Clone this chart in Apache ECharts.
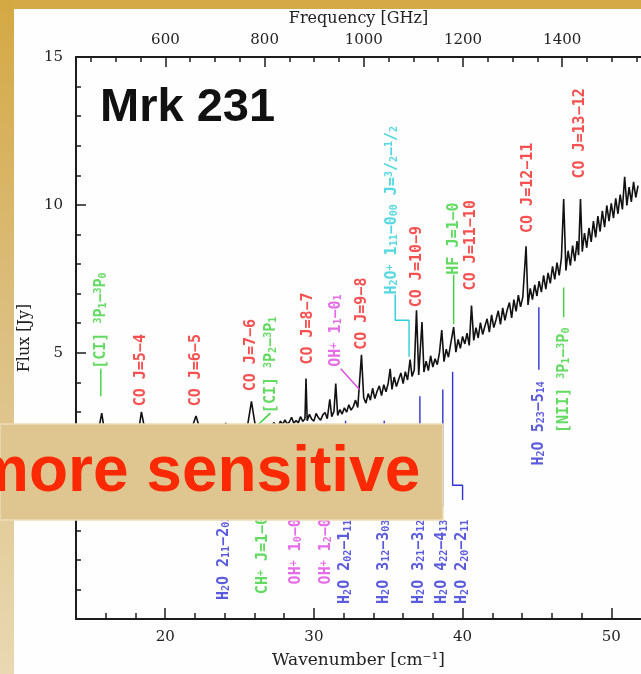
<!DOCTYPE html>
<html><head><meta charset="utf-8">
<script src="https://cdn.jsdelivr.net/npm/echarts@6/dist/echarts.min.js"></script>
<style>html,body{margin:0;padding:0;background:#fefefe;overflow:hidden}#c{width:641px;height:674px}</style>
</head><body><div id="c"></div>
<script>
// ---------- data ----------
const wnLabelTicks = [20, 30, 40, 50];
const wnMinorTicks = [16, 18, 22, 24, 26, 28, 32, 34, 36, 38, 42, 44, 46, 48];
const freqLabelTicks = [600, 800, 1000, 1200, 1400];
const freqMinorTicks = [450, 500, 550, 650, 700, 750, 850, 900, 950, 1050, 1100, 1150, 1250, 1300, 1350, 1450, 1500, 1550];
const fluxLabelTicks = [0, 5, 10, 15];
const fluxMinorTicks = [-3, -2, -1, 1, 2, 3, 4, 6, 7, 8, 9, 11, 12, 13, 14];

// spectrum: [wavenumber cm^-1, flux Jy]
const spectrum = [
[14.90,1.72],[15.30,1.80],[15.73,2.96],[16.10,1.76],[16.50,1.86],[16.90,1.82],[17.30,1.93],[17.70,1.88],[18.10,1.98],[18.40,3.00],[18.80,1.95],[19.20,2.05],[19.60,2.00],[20.00,2.10],[20.40,2.04],[20.80,2.14],[21.20,2.08],[21.60,2.18],[22.07,2.86],[22.50,2.15],[22.90,2.24],[23.30,2.20],[23.70,2.30],[24.07,2.62],[24.40,2.28],[24.80,2.36],[25.20,2.32],[25.50,2.42],[25.80,3.36],[26.10,2.40],[26.50,2.48],[26.80,2.45],
[27.00,2.58],[27.15,2.47],[27.30,2.64],[27.45,2.55],[27.60,2.50],[27.75,2.69],[27.90,2.57],[28.05,2.73],[28.20,2.60],[28.35,2.66],[28.50,2.82],[28.65,2.62],[28.80,2.71],[28.95,2.63],[29.10,2.84],[29.25,2.68],[29.40,2.77],[29.47,4.13],[29.55,2.70],[29.70,2.92],[29.85,2.76],[30.00,2.69],[30.15,2.95],[30.30,2.81],[30.45,2.72],[30.60,2.90],[30.75,2.98],[30.90,2.77],[31.07,3.43],[31.20,2.84],[31.35,3.02],[31.47,3.96],[31.60,2.88],[31.75,3.08],[31.90,2.93],[32.05,3.14],[32.20,2.99],[32.35,3.24],[32.50,3.06],[32.65,3.18],[32.80,3.40],[32.95,3.15],[33.20,4.93],[33.35,3.48],[33.50,3.30],[33.65,3.62],[33.80,3.40],[33.95,3.80],[34.10,3.45],[34.25,3.70],[34.40,3.88],[34.55,3.55],[34.70,3.92],[34.85,3.68],[35.00,3.98],[35.13,4.46],[35.25,3.76],[35.40,4.18],[35.55,3.86],[35.70,4.10],[35.85,4.32],[36.00,3.96],[36.15,4.36],[36.30,4.08],[36.47,4.77],[36.60,4.20],[36.75,4.42],[36.90,6.44],[37.05,4.25],[37.27,6.04],[37.40,4.35],[37.55,4.72],[37.70,4.40],[37.85,4.90],[38.00,4.52],[38.15,4.80],[38.30,4.60],[38.45,5.02],[38.60,5.77],[38.75,4.70],[38.90,5.12],[39.05,4.85],[39.20,5.30],[39.40,5.87],[39.55,5.02],[39.70,5.45],[39.85,5.15],[40.00,5.55],[40.15,5.30],[40.30,5.66],[40.45,5.25],[40.60,6.60],[40.75,5.42],[40.90,5.85],[41.05,5.50],[41.20,6.02],[41.35,5.62],[41.50,5.90],[41.65,6.15],[41.80,5.70],[41.95,6.28],[42.10,5.85],[42.25,6.12],[42.40,6.42],[42.55,5.96],[42.70,6.52],[42.85,6.10],[43.00,6.45],[43.15,6.70],[43.30,6.18],[43.45,6.80],[43.60,6.40],[43.75,6.95],[43.90,6.55],[44.05,6.88],[44.27,8.60],[44.40,6.62],[44.55,7.18],[44.70,6.80],[44.85,7.30],[45.00,6.92],[45.15,7.42],[45.30,7.05],[45.45,7.62],[45.60,7.15],[45.75,7.70],[45.90,7.35],[46.05,7.92],[46.20,7.48],[46.35,8.05],[46.50,7.62],[46.65,8.22],[46.80,10.20],[46.95,7.78],[47.10,8.45],[47.25,7.95],[47.40,8.62],[47.55,8.10],[47.70,8.78],[47.80,8.30],[47.93,10.20],[48.05,8.42],[48.20,9.05],[48.35,8.55],[48.50,9.22],[48.65,8.75],[48.80,9.45],[48.95,8.90],[49.10,9.62],[49.25,9.10],[49.40,9.80],[49.55,9.25],[49.70,9.98],[49.85,9.45],[50.00,10.05],[50.15,9.55],[50.30,10.22],[50.45,9.70],[50.60,10.35],[50.75,9.85],[50.90,10.95],[51.05,9.98],[51.20,10.60],[51.35,10.10],[51.50,10.78],[51.65,10.25],[51.80,10.65]
];

// line identifications (text, wavenumber of label, flux where the text starts, species)
const annotText = [
 '[CI] {sp|3}P{sb|1}−{sp|3}P{sb|0}',
 'CO J=5−4',
 'CO J=6−5',
 'CO J=7−6',
 '[CI] {sp|3}P{sb|2}−{sp|3}P{sb|1}',
 'CO J=8−7',
 'OH{sp|+} 1{sb|1}−0{sb|1}',
 'CO J=9−8',
 'H{sb|2}O{sp|+} 1{sb|11}−0{sb|00} J={sp|3}/{sb|2}−{sp|1}/{sb|2}',
 'CO J=10−9',
 'HF J=1−0',
 'CO J=11−10',
 'CO J=12−11',
 'CO J=13−12',
 'H{sb|2}O 5{sb|23}−5{sb|14}',
 '[NII] {sp|3}P{sb|1}−{sp|3}P{sb|0}',
 'H{sb|2}O 2{sb|11}−2{sb|02}',
 'CH{sp|+} J=1−0',
 'OH{sp|+} 1{sb|0}−0{sb|1}',
 'OH{sp|+} 1{sb|2}−0{sb|1}',
 'H{sb|2}O 2{sb|02}−1{sb|11}',
 'H{sb|2}O 3{sb|12}−3{sb|03}',
 'H{sb|2}O 3{sb|21}−3{sb|12}',
 'H{sb|2}O 4{sb|22}−4{sb|13}',
 'H{sb|2}O 2{sb|20}−2{sb|11}'
];
const annotWn = [15.67,18.40,22.07,25.80,27.13,29.60,31.47,33.27,35.27,36.93,39.40,40.60,44.40,47.93,45.13,46.80,23.93,26.60,28.80,30.80,32.13,34.73,37.07,38.60,40.00];
const annotFlux = [4.46,3.19,3.19,3.70,2.96,4.60,4.53,5.10,6.97,6.54,7.64,7.11,9.05,10.89,1.19,2.29,-3.36,-3.16,-2.83,-2.83,-3.49,-3.49,-3.49,-3.49,-3.49];
const annotSpecies = ['ci','co','co','co','ci','co','ohp','co','h2op','co','hf','co','co','co','h2o','nii','h2o','chp','ohp','ohp','h2o','h2o','h2o','h2o','h2o'];

// leader lines from labels to lines
const leaderSpecies = ['ci','ci','ohp','h2op','hf','h2o','nii','h2o','chp','ohp','ohp','h2o','h2o','h2o','h2o','h2o'];
const leaderPaths = [
 [[15.67,4.46],[15.67,3.53]],
 [[27.07,2.96],[26.10,2.50]],
 [[31.80,4.46],[33.07,3.76]],
 [[35.47,6.97],[35.47,6.10],[36.40,6.10],[36.40,4.87]],
 [[39.40,7.64],[39.40,5.97]],
 [[45.13,6.54],[45.13,4.43]],
 [[46.80,7.21],[46.80,6.20]],
 [[23.93,2.40],[23.93,-0.20]],
 [[26.60,2.45],[26.60,-0.25]],
 [[28.80,2.55],[28.80,-0.25]],
 [[30.80,2.60],[30.80,-0.25]],
 [[32.13,2.70],[32.13,-0.20]],
 [[34.73,2.70],[34.73,-0.20]],
 [[37.13,3.53],[37.13,-0.15]],
 [[38.67,3.76],[38.67,-0.20]],
 [[39.33,4.36],[39.33,0.52],[40.00,0.52],[40.00,0.02]]
];

// ---------- style ----------
const C_GHZ = 29.9792458;
const WN_MIN = 14, WN_MAX = 52;
const speciesColor = {co:'#f42424', ci:'#3cd23c', hf:'#3cd23c', chp:'#3cd23c', nii:'#3cd23c', h2o:'#3232d6', ohp:'#e046e0', h2op:'#2cced9'};
const AXIS_FONT = '"DejaVu Serif", serif';
const LABEL_FONT = '"DejaVu Sans Mono", monospace';
const INK = '#1c1c1c';

const axisText = {color:'#222', fontFamily:AXIS_FONT, fontSize:15};
const nameText = {color:'#222', fontFamily:AXIS_FONT, fontSize:16};

const chart = echarts.init(document.getElementById('c'), null, {renderer:'canvas'});

const series = [];
series.push({
  type:'line', data: spectrum, xAxisIndex:0, yAxisIndex:0, symbol:'none',
  lineStyle:{color:'#111', width:1.6}, z:3, silent:true, animation:false
});
leaderPaths.forEach((p, i) => {
  series.push({
    type:'line', data:p, xAxisIndex:0, yAxisIndex:0, symbol:'none',
    lineStyle:{color:speciesColor[leaderSpecies[i]], width:1.4}, z:4, silent:true
  });
});
series.push({
  type:'scatter', xAxisIndex:0, yAxisIndex:0, symbolSize:1, itemStyle:{color:'rgba(0,0,0,0)'}, z:5, silent:true,
  data: annotText.map((t, i) => ({
    value:[annotWn[i], annotFlux[i]], name:t,
    label:{color:speciesColor[annotSpecies[i]]}
  })),
  label:{
    show:true, position:'inside', rotate:90, align:'left', verticalAlign:'middle',
    formatter: p => p.name,
    fontFamily:LABEL_FONT, fontSize:15, fontWeight:'bold',
    rich:{
      sb:{fontFamily:LABEL_FONT, fontSize:10, fontWeight:'bold', verticalAlign:'bottom'},
      sp:{fontFamily:LABEL_FONT, fontSize:10, fontWeight:'bold', verticalAlign:'top'}
    }
  }
});

const tickLine = {color:INK, width:1.5};
const option = {
  animation:false,
  backgroundColor:'#fefefe',
  grid:{left:76, top:57, width:570, height:568, containLabel:false},
  xAxis:[
    {type:'value', position:'bottom', min:WN_MIN, max:WN_MAX,
     axisLine:{show:true, onZero:false, lineStyle:{color:INK, width:2}},
     axisTick:{show:true, inside:true, length:6, customValues:wnMinorTicks, lineStyle:tickLine},
     axisLabel:Object.assign({show:true, customValues:wnLabelTicks, margin:11, formatter:v=>String(v)}, axisText),
     splitLine:{show:false},
     name:'Wavenumber [cm⁻¹]', nameLocation:'middle', nameGap:33, nameTextStyle:{color:'#222', fontFamily:AXIS_FONT, fontSize:17}},
    {type:'value', position:'bottom', min:WN_MIN, max:WN_MAX,
     axisLine:{show:false, onZero:false},
     axisTick:{show:true, inside:true, length:11, customValues:wnLabelTicks, lineStyle:tickLine},
     axisLabel:{show:false}, splitLine:{show:false}},
    {type:'value', position:'top', min:WN_MIN*C_GHZ, max:WN_MAX*C_GHZ,
     axisLine:{show:true, onZero:false, lineStyle:{color:INK, width:2}},
     axisTick:{show:true, inside:true, length:5, customValues:freqMinorTicks, lineStyle:tickLine},
     axisLabel:Object.assign({show:true, customValues:freqLabelTicks, margin:9, formatter:v=>String(v)}, axisText),
     splitLine:{show:false},
     name:'Frequency [GHz]', nameLocation:'middle', nameGap:30, nameTextStyle:nameText},
    {type:'value', position:'top', min:WN_MIN*C_GHZ, max:WN_MAX*C_GHZ,
     axisLine:{show:false, onZero:false},
     axisTick:{show:true, inside:true, length:10, customValues:freqLabelTicks, lineStyle:tickLine},
     axisLabel:{show:false}, splitLine:{show:false}}
  ],
  yAxis:[
    {type:'value', position:'left', min:-4, max:15,
     axisLine:{show:true, onZero:false, lineStyle:{color:INK, width:2}},
     axisTick:{show:true, inside:true, length:5, customValues:fluxMinorTicks, lineStyle:tickLine},
     axisLabel:Object.assign({show:true, customValues:fluxLabelTicks, margin:13, formatter:v=>String(v)}, axisText),
     splitLine:{show:false},
     name:'Flux [Jy]', nameLocation:'middle', nameGap:42, nameRotate:90, nameTextStyle:nameText},
    {type:'value', position:'left', min:-4, max:15,
     axisLine:{show:false, onZero:false},
     axisTick:{show:true, inside:true, length:10, customValues:fluxLabelTicks, lineStyle:tickLine},
     axisLabel:{show:false}, splitLine:{show:false}}
  ],
  series: series,
  graphic:[
    {type:'rect', z:50, silent:true, shape:{x:0, y:0, width:641, height:9}, style:{fill:'#d5a946'}},
    {type:'rect', z:50, silent:true, shape:{x:0, y:0, width:14, height:674},
     style:{fill:new echarts.graphic.LinearGradient(0,0,0,1,[{offset:0,color:'#d4a843'},{offset:0.45,color:'#dbbd7c'},{offset:1,color:'#e9d8b2'}])}},
    {type:'text', z:60, silent:true, style:{x:100, y:108, text:'Mrk 231', font:'bold 47px "Liberation Sans", Arial, sans-serif', fill:'#111', align:'left', verticalAlign:'middle'}},
    {type:'rect', z:100, silent:true, shape:{x:0, y:424, width:443, height:96}, style:{fill:'#dfc690', stroke:'#ecdcb8', lineWidth:1.5}},
    {type:'text', z:101, silent:true, style:{x:-28, y:473, text:'more sensitive', font:'bold 64px "Liberation Sans", Arial, sans-serif', fill:'#fb2a04', align:'left', verticalAlign:'middle'}}
  ]
};
chart.setOption(option);
</script>
</body></html>
